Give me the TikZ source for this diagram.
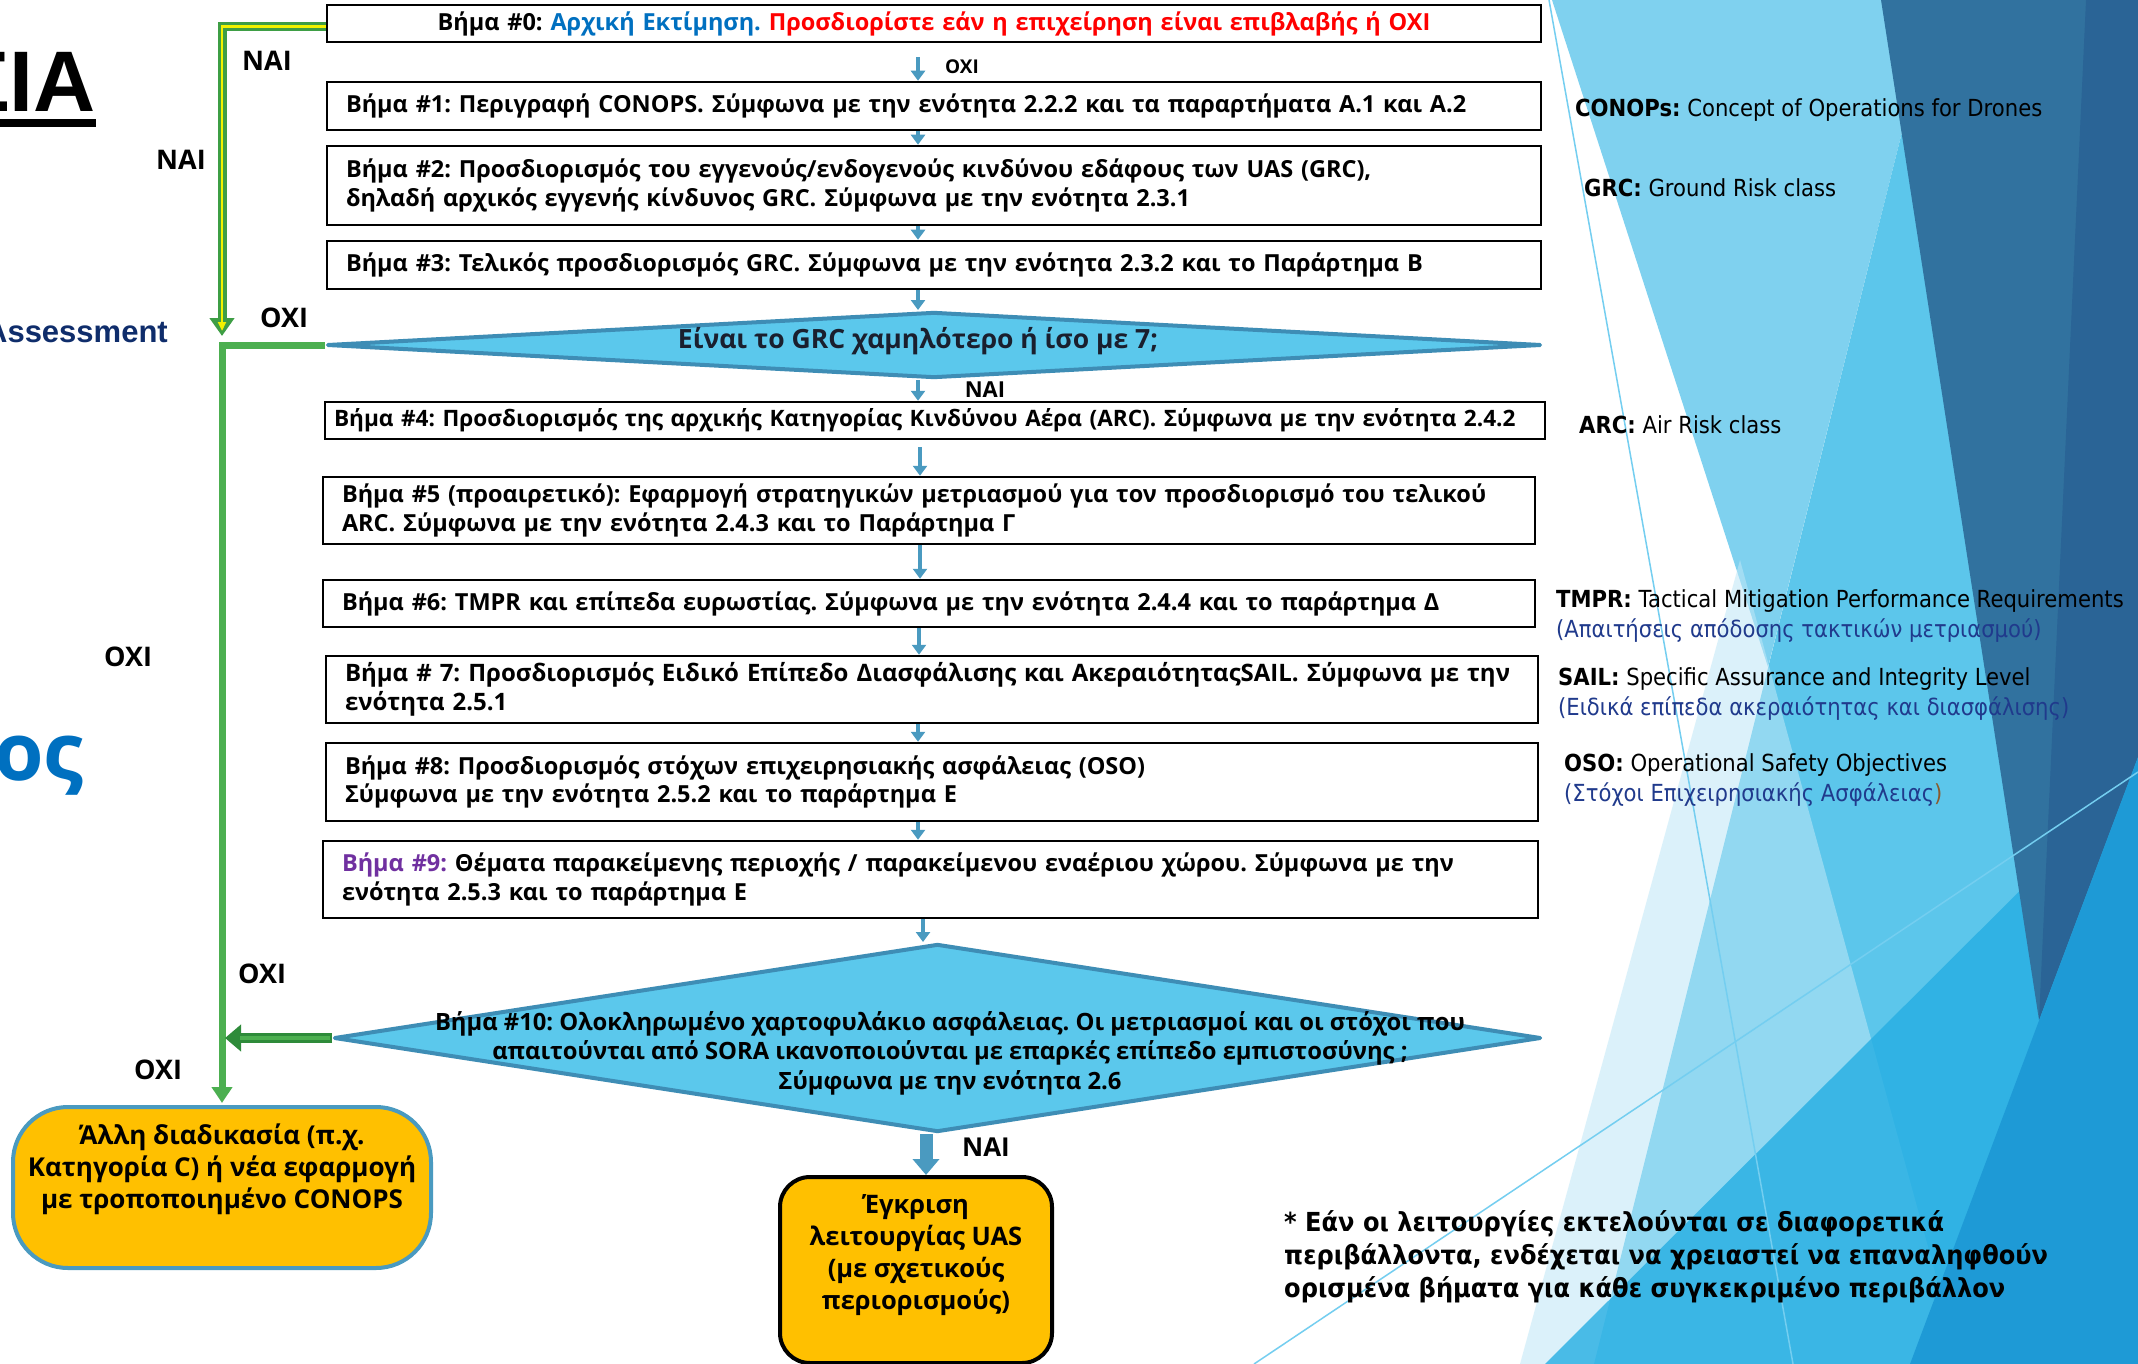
\documentclass[tikz,border=0pt]{standalone}
\usepackage{fontspec}
\setmainfont{Open Sans}
\newfontfamily\labfam[FakeStretch=0.9]{DejaVu Sans}
\newfontfamily\notefam[FakeStretch=0.92]{DejaVu Sans}
\newfontfamily\arfam{Liberation Sans}
\usetikzlibrary{arrows.meta,shapes.geometric}
\frenchspacing

\definecolor{arrowblue}{HTML}{4A9AC0}
\definecolor{diafill}{HTML}{5BC8EC}
\definecolor{diaedge}{HTML}{3E8DB5}
\definecolor{amber}{HTML}{FFC000}
\definecolor{ggreen}{HTML}{3E9E45}
\definecolor{lgreen}{HTML}{4CAF50}
\definecolor{dgreen}{HTML}{2E8B3A}
\definecolor{gyel}{HTML}{F2F200}
\definecolor{tblue}{HTML}{0070C0}
\definecolor{tred}{HTML}{FF0000}
\definecolor{tpurple}{HTML}{7030A0}
\definecolor{lnavy}{HTML}{203A8C}
\definecolor{navyt}{HTML}{0F2D6B}
\definecolor{brownp}{HTML}{8B5A2B}
\definecolor{bgL}{HTML}{7FD1EF}
\definecolor{bgM}{HTML}{5CC6EB}
\definecolor{bgV}{HTML}{BFE7F7}
\definecolor{bgD}{HTML}{31729F}
\definecolor{bgDD}{HTML}{2A6496}
\definecolor{bgB}{HTML}{25AEE3}
\definecolor{bgBB}{HTML}{1E9AD6}
\definecolor{thinl}{HTML}{74CEF0}
\definecolor{qtext}{HTML}{1A1F2E}

\newcommand\stepfont{\fontsize{23.5}{28.5}\selectfont\bfseries}
\newcommand\bigfont{\fontsize{25.5}{32}\selectfont\bfseries}

\begin{document}
\begin{tikzpicture}[x=1pt,y=-1pt,
  stepbox/.style={draw=black, line width=2.5pt, fill=white, inner xsep=19pt, inner ysep=0pt, align=left, font=\stepfont},
  dia/.style={shape=diamond, draw=diaedge, line width=4pt, fill=diafill, inner sep=0pt, line join=round},
  barrow/.style={draw=arrowblue, line width=4.5pt, -{Triangle[length=10pt,width=14pt]}},
  bigarrow/.style={draw=arrowblue, line width=13pt, -{Triangle[length=16pt,width=26pt]}},
  gout/.style={draw=ggreen, line width=9pt, -{Triangle[length=18pt,width=24pt]}},
  gin/.style={draw=gyel, line width=2.5pt, -{Triangle[length=9pt,width=8pt]}},
  gline/.style={draw=lgreen, line width=7pt, -{Triangle[length=16pt,width=20pt]}},
  gthick/.style={draw=dgreen, line width=10pt, -{Triangle[length=16pt,width=26pt]}},
  yn/.style={inner sep=0pt, font=\fontsize{27}{30}\selectfont\bfseries},
  rl/.style={anchor=west, inner sep=0pt, align=left, font=\labfam\fontsize{23.5}{30}\selectfont},
  goldbox/.style={fill=amber, line width=4pt, inner sep=0pt}
]
\useasboundingbox (0,0) rectangle (2138,1364);
\clip (0,0) rectangle (2138,1364);
\fill[white] (0,0) rectangle (2138,1364);

% ---------- background facets ----------
\fill[bgL] (1552,0) -- (1935,0) -- (1768,667) -- cycle;
\fill[bgM] (1935,0) -- (2138,0) -- (2138,1364) -- (1594,1364) -- cycle;
\fill[bgV, opacity=0.55] (1520,1364) -- (1740,560) -- (1960,1364) -- cycle;
\fill[bgB, opacity=0.8] (1545,1364) -- (2138,773) -- (2138,1364) -- cycle;
\fill[bgD] (1881,0) -- (2138,0) -- (2138,757) -- (2039,1020) -- cycle;
\fill[bgDD] (2086,0) -- (2138,0) -- (2138,757) -- (2039,1020) -- cycle;
\fill[bgBB] (1910,1364) -- (2138,757) -- (2138,1364) -- cycle;
\draw[thinl, line width=1.5pt] (1549,0) -- (1793,1364);
\draw[thinl, line width=1.5pt] (1254,1364) -- (2138,772);

% ---------- left edge texts ----------
\node[anchor=base east, inner sep=0pt, font=\arfam\bfseries\fontsize{86}{90}\selectfont] (title) at (96,112) {ΣΙΑ};
\fill[black] (0,119) rectangle (96,127);
\node[anchor=base east, inner sep=0pt, text=navyt, font=\arfam\bfseries\fontsize{31}{34}\selectfont] (assess) at (168,342) {Assessment};
\node[anchor=base east, inner sep=0pt, text=tblue, font=\bfseries\fontsize{80}{90}\selectfont] (os) at (84,780) {ος};

% ---------- coordinates ----------
\coordinate (x918) at (918,0);
\coordinate (x919) at (919,0);
\coordinate (x920) at (920,0);
\coordinate (x923) at (923,0);
\coordinate (x926) at (926,0);
\coordinate (gx) at (222,0);

% ---------- flowchart ----------
\node[stepbox, text width=1176pt, minimum height=37pt, align=center] (b0) at (934,23.5)
  {\mbox{Βήμα \#0: \textcolor{tblue}{Αρχική Εκτίμηση.} \textcolor{tred}{Προσδιορίστε εάν η επιχείρηση είναι επιβλαβής ή ΟΧΙ}}};
\node[stepbox, text width=1176pt, minimum height=48pt] (b1) at (934,106)
  {\mbox{Βήμα \#1: Περιγραφή CONOPS. Σύμφωνα με την ενότητα 2.2.2 και τα παραρτήματα Α.1 και Α.2}};
\node[stepbox, text width=1176pt, minimum height=79pt] (b2) at (934,185.5)
  {\mbox{Βήμα \#2: Προσδιορισμός του εγγενούς/ενδογενούς κινδύνου εδάφους των UAS (GRC),}\\ \mbox{δηλαδή αρχικός εγγενής κίνδυνος GRC. Σύμφωνα με την ενότητα 2.3.1}};
\node[stepbox, text width=1176pt, minimum height=48pt] (b3) at (934,265)
  {\mbox{Βήμα \#3: Τελικός προσδιορισμός GRC. Σύμφωνα με την ενότητα 2.3.2 και το Παράρτημα Β}};
\node[dia, minimum width=1214pt, minimum height=66pt] (d1) at (934,345) {};
\node[inner sep=0pt, text=qtext, font=\fontsize{26.5}{30}\selectfont\bfseries] (d1t) at (918,341) {Είναι το GRC χαμηλότερο ή ίσο με 7;};
\node[stepbox, inner xsep=9pt, text width=1202pt, minimum height=37pt, font=\fontsize{22.6}{28}\selectfont\bfseries] (b4) at (935,420.5)
  {\mbox{Βήμα \#4: Προσδιορισμός της αρχικής Κατηγορίας Κινδύνου Αέρα (ARC). Σύμφωνα με την ενότητα 2.4.2}};
\node[stepbox, text width=1174pt, minimum height=67pt] (b5) at (929,510.5)
  {\mbox{Βήμα \#5 (προαιρετικό): Εφαρμογή στρατηγικών μετριασμού για τον προσδιορισμό του τελικού}\\ \mbox{ARC. Σύμφωνα με την ενότητα 2.4.3 και το Παράρτημα Γ}};
\node[stepbox, text width=1174pt, minimum height=47pt] (b6) at (929,603.5)
  {\mbox{Βήμα \#6: TMPR και επίπεδα ευρωστίας. Σύμφωνα με την ενότητα 2.4.4 και το παράρτημα Δ}};
\node[stepbox, text width=1174pt, minimum height=67pt, font=\fontsize{24}{28.5}\selectfont\bfseries] (b7) at (932,689.5)
  {\mbox{Βήμα \# 7: Προσδιορισμός Ειδικό Επίπεδο Διασφάλισης και ΑκεραιότηταςSAIL. Σύμφωνα με την}\\ \mbox{ενότητα 2.5.1}};
\node[stepbox, text width=1174pt, minimum height=78pt] (b8) at (932,782)
  {\mbox{Βήμα \#8: Προσδιορισμός στόχων επιχειρησιακής ασφάλειας (OSO)}\\ \mbox{Σύμφωνα με την ενότητα 2.5.2 και το παράρτημα Ε}};
\node[stepbox, text width=1177pt, minimum height=77pt] (b9) at (930.5,879.5)
  {\mbox{\textcolor{tpurple}{Βήμα \#9:} Θέματα παρακείμενης περιοχής / παρακείμενου εναέριου χώρου. Σύμφωνα με την}\\ \mbox{ενότητα 2.5.3 και το παράρτημα Ε}};
\node[dia, minimum width=1207pt, minimum height=188pt] (d10) at (937.5,1038) {};
\node[inner sep=0pt, align=center, font=\fontsize{23.8}{29.5}\selectfont\bfseries] (d10t) at (950,1053)
  {Βήμα \#10: Ολοκληρωμένο χαρτοφυλάκιο ασφάλειας. Οι μετριασμοί και οι στόχοι που\\ απαιτούνται από SORA ικανοποιούνται με επαρκές επίπεδο εμπιστοσύνης ;\\ Σύμφωνα με την ενότητα 2.6};
\node[goldbox, draw=black, rounded corners=30pt, minimum width=272pt, minimum height=186pt] (fb) at (916,1270) {};
\node[inner sep=0pt, align=center, font=\bigfont] (fbt) at (916,1255)
  {Έγκριση\\ λειτουργίας UAS\\ (με σχετικούς\\ περιορισμούς)};
\node[goldbox, draw=arrowblue, rounded corners=55pt, minimum width=418pt, minimum height=161pt] (lb) at (222,1187.5) {};
\node[inner sep=0pt, align=center, font=\fontsize{26}{32}\selectfont\bfseries] (lbt) at (222,1169)
  {Άλλη διαδικασία (π.χ.\\ Κατηγορία C) ή νέα εφαρμογή\\ με τροποποιημένο CONOPS};

% ---------- blue connectors ----------
\draw[barrow, shorten <=14pt] (b0.south -| x918) -- (b1.north -| x918);
\draw[barrow] (b1.south -| x918) -- (b2.north -| x918);
\draw[barrow] (b2.south -| x918) -- (b3.north -| x918);
\draw[barrow] (b3.south -| x918) -- (d1.north -| x918);
\draw[barrow] (d1.south -| x918) -- (b4.north -| x918);
\draw[barrow, shorten <=7pt] (b4.south -| x920) -- (b5.north -| x920);
\draw[barrow] (b5.south -| x920) -- (b6.north -| x920);
\draw[barrow] (b6.south -| x919) -- (b7.north -| x919);
\draw[barrow] (b7.south -| x918) -- (b8.north -| x918);
\draw[barrow] (b8.south -| x918) -- (b9.north -| x918);
\draw[barrow] (b9.south -| x923) -- (d10.north -| x923);
\draw[bigarrow] (d10.south -| x926) -- (fb.north -| x926);

% ---------- green connectors ----------
\coordinate (g0) at ([yshift=-3pt]b0.west);
\draw[gout, shorten >=9pt] (g0) -- (g0 -| gx) -- (gx |- d1.west);
\draw[gin, shorten >=14pt] (g0) -- (g0 -| gx) -- (gx |- d1.west);
\draw[gline, shorten >=2pt] (d1.west) -- (d1.west -| gx) -- (lb.north);
\draw[gthick, shorten >=3pt] (d10.west) -- (d10.west -| gx);
\draw[lgreen, line width=4.5pt, shorten >=18pt, shorten <=2pt] (d10.west) -- (d10.west -| gx);

% ---------- yes / no labels ----------
\node[yn] (nai1) at (267,61) {ΝΑΙ};
\node[yn] (nai2) at (181,160) {ΝΑΙ};
\node[yn] (oxi1) at (284,318) {ΟΧΙ};
\node[yn] (oxi2) at (128,657) {ΟΧΙ};
\node[yn] (oxi3) at (262,974) {ΟΧΙ};
\node[yn] (oxi4) at (158,1070) {ΟΧΙ};
\node[yn, font=\fontsize{19}{22}\selectfont\bfseries] (oxi0) at (962,67) {ΟΧΙ};
\node[yn, font=\fontsize{22}{25}\selectfont\bfseries] (nai3) at (985,390) {ΝΑΙ};
\node[yn, font=\fontsize{26}{30}\selectfont\bfseries] (nai4) at (986,1147) {ΝΑΙ};

% ---------- right-side glossary ----------
\node[rl] (lconops) at (1575,110) {\textbf{CONOPs:} Concept of Operations for Drones};
\node[rl] (lgrc) at (1584,188) {\textbf{GRC:} Ground Risk class};
\node[rl] (larc) at (1579,425) {\textbf{ARC:} Air Risk class};
\node[rl] (ltmpr) at (1556,616) {\textbf{TMPR:} Tactical Mitigation Performance Requirements\\ \textcolor{lnavy}{(Απαιτήσεις απόδοσης τακτικών μετριασμού)}};
\node[rl] (lsail) at (1558,694) {\textbf{SAIL:} Specific Assurance and Integrity Level\\ \textcolor{lnavy}{(Ειδικά επίπεδα ακεραιότητας και διασφάλισης)}};
\node[rl] (loso) at (1564,780) {\textbf{OSO:} Operational Safety Objectives\\ \textcolor{lnavy}{(Στόχοι Επιχειρησιακής Ασφάλειας}\textcolor{brownp}{)}};

\node[anchor=west, inner sep=0pt, align=left, font=\notefam\bfseries\fontsize{26.2}{33}\selectfont] (note) at (1284,1257)
  {* Εάν οι λειτουργίες εκτελούνται σε διαφορετικά\\ περιβάλλοντα, ενδέχεται να χρειαστεί να επαναληφθούν\\ ορισμένα βήματα για κάθε συγκεκριμένο περιβάλλον};
\end{tikzpicture}
\end{document}
